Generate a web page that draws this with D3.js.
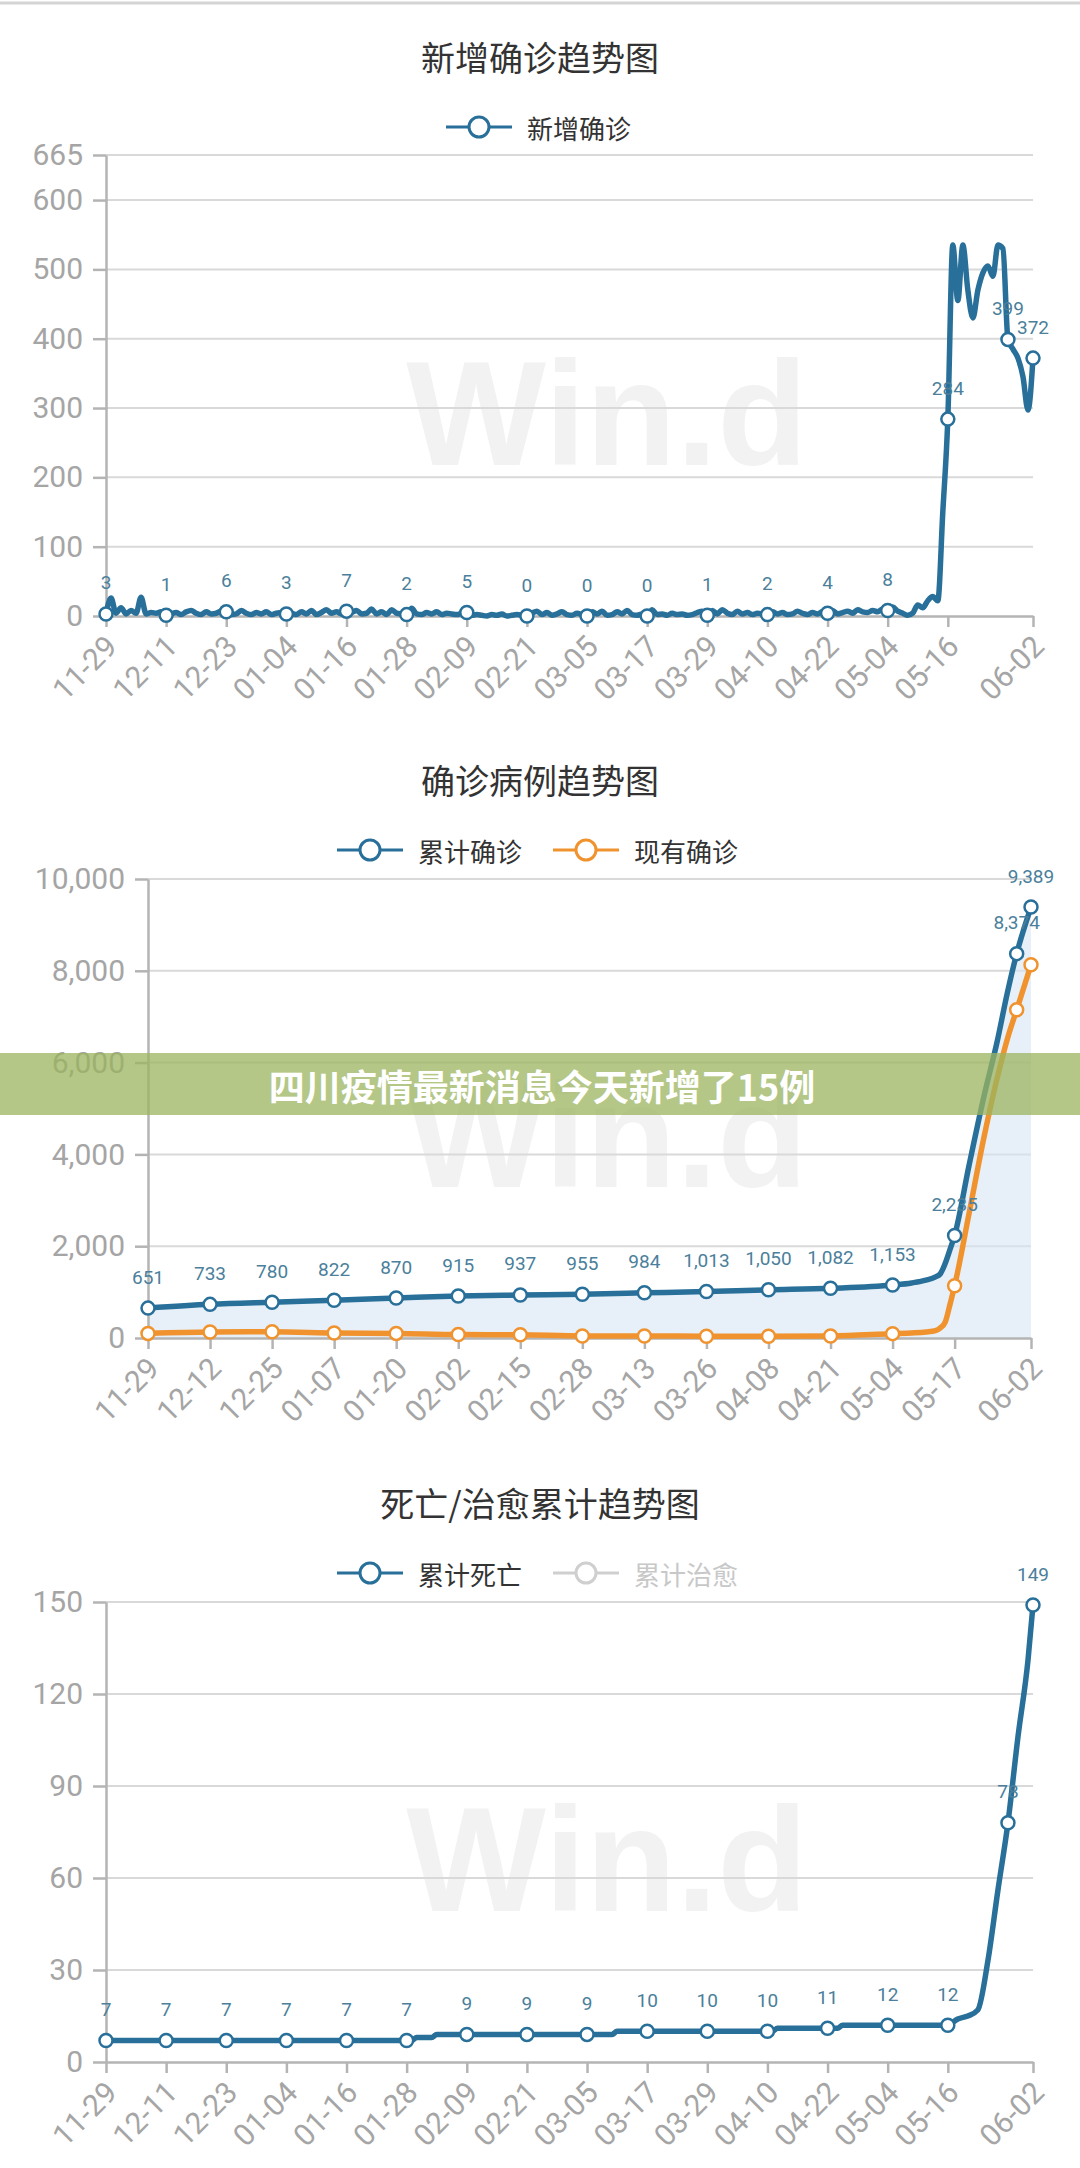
<!DOCTYPE html>
<html>
<head>
<meta charset="utf-8">
<script src="https://cdn.jsdelivr.net/npm/d3@7"></script>
<style>
body { margin: 0; background: #fff; }
svg { display: block; }
</style>
</head>
<body>
<svg id="page" width="1080" height="2168"></svg>
<script>
// ---- data ----
var startDate = "2021-11-29"

// 新增确诊, one value per day from 11-29 to 06-02
var newCases = [
    3, 26, 4, 12, 3, 8, 4, 27, 3, 5, 4, 6,
    1, 3, 5, 2, 6, 8, 4, 2, 6, 3, 4, 7,
    6, 2, 3, 8, 4, 2, 5, 3, 6, 2, 4, 5,
    3, 4, 2, 6, 3, 8, 2, 5, 9, 4, 6, 3,
    7, 5, 8, 3, 4, 10, 3, 6, 2, 9, 4, 3,
    2, 11, 3, 2, 5, 3, 6, 2, 4, 3, 2, 4,
    5, 1, 2, 1, 0, 2, 1, 3, 0, 1, 2, 1,
    0, 4, 7, 2, 5, 1, 3, 6, 2, 1, 4, 2,
    0, 6, 3, 7, 1, 2, 6, 3, 8, 2, 1, 3,
    0, 9, 2, 3, 1, 4, 2, 3, 1, 2, 5, 7,
    1, 8, 3, 9, 4, 2, 7, 3, 5, 2, 4, 3,
    2, 6, 3, 5, 2, 3, 7, 4, 2, 5, 3, 6,
    4, 8, 3, 5, 7, 4, 9, 6, 5, 8, 6, 10,
    8, 13, 7, 4, 1, 4, 16, 12, 22, 28, 22, 150,
    284, 535, 455, 535, 470, 430, 470, 495, 505, 490, 535, 530,
    399, 385, 372, 345, 297, 372
]

// 确诊病例 (day index from 11-29)
var confIdx = [0, 13, 26, 39, 52, 65, 78, 91, 104, 117, 130, 143, 156, 160, 163, 165, 166, 167, 168, 169, 172, 175, 178, 180, 182, 185]
var totalConfirmed = [651, 733, 780, 822, 870, 915, 937, 955, 984, 1013, 1050, 1082, 1153, 1200, 1260, 1330, 1400, 1620, 1920, 2235, 3750, 5200, 6500, 7500, 8374, 9389]
var currentConfirmed = [100, 130, 135, 110, 100, 75, 70, 45, 45, 40, 40, 45, 95, 110, 130, 160, 220, 340, 720, 1140, 2700, 4300, 5700, 6500, 7150, 8130]

// 累计死亡 (day index from 11-29)
var deathIdx = [0, 12, 24, 36, 48, 60, 61, 62, 65, 66, 72, 84, 96, 101, 102, 108, 120, 132, 133, 134, 144, 146, 147, 156, 168, 169, 170, 172, 174, 176, 178, 180, 182, 184, 185]
var totalDeaths = [7, 7, 7, 7, 7, 7, 7, 8, 8, 9, 9, 9, 9, 9, 10, 10, 10, 10, 10, 11, 11, 11, 12, 12, 12, 13, 14, 15, 17, 33, 56, 78, 106, 131, 149]

// ticks / markers
var ticks12 = [0, 12, 24, 36, 48, 60, 72, 84, 96, 108, 120, 132, 144, 156, 168, 185]
var ticks13 = [0, 13, 26, 39, 52, 65, 78, 91, 104, 117, 130, 143, 156, 169, 185]
var marks12 = [0, 12, 24, 36, 48, 60, 72, 84, 96, 108, 120, 132, 144, 156, 168, 180, 185]
var marks13 = [0, 13, 26, 39, 52, 65, 78, 91, 104, 117, 130, 143, 156, 169, 182, 185]

var yTicks1 = [0, 100, 200, 300, 400, 500, 600, 665]
var yTicks2 = [0, 2000, 4000, 6000, 8000, 10000]
var yTicks3 = [0, 30, 60, 90, 120, 150]

var BLUE = "#286f99"
var ORANGE = "#f0932f"
var LABEL = "#4b7f9b"
var CJK = "'Noto Sans CJK SC', 'Noto Sans', sans-serif"
var NUM = "Roboto, 'Noto Sans', sans-serif"

var svg = d3.select("#page")
var start = d3.timeParse("%Y-%m-%d")(startDate)
function dayToDate(i) { return d3.timeDay.offset(start, i) }

// thin border on top of the screenshot
svg.append("line")
    .attr("x1", 0).attr("x2", 1080).attr("y1", 3).attr("y2", 3)
    .attr("stroke", "#d4d4d4").attr("stroke-width", 3)

function drawChart(opt) {
    var g = svg.append("g")

    var x = d3.scaleTime()
        .domain([dayToDate(0), dayToDate(185)])
        .range([opt.left, opt.right])
    var y = d3.scaleLinear()
        .domain([0, opt.yMax])
        .range([opt.bottom, opt.top])

    // title
    g.append("text")
        .attr("x", 540).attr("y", opt.titleY)
        .attr("text-anchor", "middle").attr("dominant-baseline", "central")
        .style("font-family", CJK).style("font-size", "34px")
        .attr("fill", "#333")
        .text(opt.title)

    // legend
    opt.legend.forEach(function(item) {
        var c = item.active ? item.color : "#cfcfcf"
        g.append("line")
            .attr("x1", item.cx - 33).attr("x2", item.cx + 33)
            .attr("y1", opt.legendY).attr("y2", opt.legendY)
            .attr("stroke", c).attr("stroke-width", 3)
        g.append("circle")
            .attr("cx", item.cx).attr("cy", opt.legendY).attr("r", 10)
            .attr("fill", "#fff").attr("stroke", c).attr("stroke-width", 3)
        g.append("text")
            .attr("x", item.cx + 48).attr("y", opt.legendY)
            .attr("dominant-baseline", "central")
            .style("font-family", CJK).style("font-size", "26px")
            .attr("fill", item.active ? "#333" : "#c8c8c8")
            .text(item.name)
    })

    // watermark
    g.append("text")
        .attr("x", 607).attr("y", opt.bottom - 151)
        .attr("text-anchor", "middle")
        .style("font-family", "'Liberation Sans', Arial, sans-serif")
        .style("font-weight", "bold").style("font-size", "148px")
        .attr("fill", "#f2f2f2")
        .text("Win.d")

    // grid
    g.append("g").selectAll("line")
        .data(opt.yTicks.filter(function(d) { return d > 0 }))
        .enter().append("line")
        .attr("x1", opt.left).attr("x2", opt.right)
        .attr("y1", d => y(d)).attr("y2", d => y(d))
        .attr("stroke", "#d9d9d9").attr("stroke-width", 2)

    // series
    var line = d3.line()
        .x(d => x(d.date))
        .y(d => y(d.v))
        .curve(d3.curveMonotoneX)

    opt.series.forEach(function(s) {
        var pts = s.days.map(function(dd, i) { return { day: dd, date: dayToDate(dd), v: s.values[i] } })
        if (s.area) {
            var area = d3.area()
                .x(d => x(d.date))
                .y0(y(0))
                .y1(d => y(d.v))
                .curve(d3.curveMonotoneX)
            g.append("path")
                .datum(pts)
                .attr("d", area)
                .attr("fill", "#d7e6f3")
                .attr("opacity", 0.6)
        }
        s.pts = pts
    })

    // axes
    var yAxis = g.append("g")
        .attr("transform", "translate(" + opt.left + ",0)")
        .call(d3.axisLeft(y).tickValues(opt.yTicks).tickSize(13).tickSizeOuter(0).tickPadding(10).tickFormat(opt.yFormat))
    yAxis.select(".domain").attr("stroke", "#b4b4b4").attr("stroke-width", 2.5)
    yAxis.selectAll(".tick line").attr("stroke", "#b4b4b4").attr("stroke-width", 2.5)
    yAxis.selectAll("text")
        .style("font-family", NUM).style("font-size", "30px")
        .attr("fill", "#a5a5a5")

    var xAxis = g.append("g")
        .attr("transform", "translate(0," + opt.bottom + ")")
        .call(d3.axisBottom(x).tickValues(opt.xTicks.map(dayToDate)).tickSize(11).tickSizeOuter(0).tickFormat(d3.timeFormat("%m-%d")))
    xAxis.select(".domain").attr("stroke", "#b4b4b4").attr("stroke-width", 2.5)
    xAxis.selectAll(".tick line").attr("stroke", "#b4b4b4").attr("stroke-width", 2.5)
    xAxis.selectAll("text")
        .attr("y", 0).attr("dy", "0.35em")
        .attr("text-anchor", "end")
        .attr("transform", "translate(5,25) rotate(-45)")
        .style("font-family", NUM).style("font-size", "30px")
        .attr("fill", "#a5a5a5")

    // lines, markers and labels
    opt.series.forEach(function(s) {
        g.append("path")
            .datum(s.pts)
            .attr("d", line)
            .attr("fill", "none")
            .attr("stroke", s.color)
            .attr("stroke-width", 5.5)
            .attr("stroke-linejoin", "round")
    })
    opt.series.forEach(function(s) {
        var marks = s.pts.filter(function(p) { return opt.marks.indexOf(p.day) >= 0 })
        g.append("g").selectAll("circle")
            .data(marks)
            .enter().append("circle")
            .attr("cx", d => x(d.date))
            .attr("cy", d => y(d.v))
            .attr("r", 6.5)
            .attr("fill", "#fff")
            .attr("stroke", s.color)
            .attr("stroke-width", 2.5)
        if (s.labels) {
            g.append("g").selectAll("text")
                .data(marks)
                .enter().append("text")
                .attr("x", d => x(d.date))
                .attr("y", d => y(d.v) - 31)
                .attr("text-anchor", "middle").attr("dominant-baseline", "central")
                .style("font-family", NUM).style("font-size", "19px")
                .attr("fill", LABEL)
                .text(d => d3.format(",")(d.v))
        }
    })
}

var allDays = newCases.map(function(d, i) { return i })

drawChart({
    title: "新增确诊趋势图", titleY: 56, legendY: 127,
    legend: [{ name: "新增确诊", cx: 479, color: BLUE, active: true }],
    left: 106, right: 1033, top: 155, bottom: 616,
    yMax: 665, yTicks: yTicks1, yFormat: d3.format("d"),
    xTicks: ticks12, marks: marks12,
    series: [{ days: allDays, values: newCases, color: BLUE, labels: true }]
})

drawChart({
    title: "确诊病例趋势图", titleY: 779, legendY: 850,
    legend: [
        { name: "累计确诊", cx: 370, color: BLUE, active: true },
        { name: "现有确诊", cx: 586, color: ORANGE, active: true }
    ],
    left: 148, right: 1031, top: 879, bottom: 1338,
    yMax: 10000, yTicks: yTicks2, yFormat: d3.format(","),
    xTicks: ticks13, marks: marks13,
    series: [
        { days: confIdx, values: totalConfirmed, color: BLUE, labels: true, area: true },
        { days: confIdx, values: currentConfirmed, color: ORANGE, labels: false }
    ]
})

drawChart({
    title: "死亡/治愈累计趋势图", titleY: 1502, legendY: 1573,
    legend: [
        { name: "累计死亡", cx: 370, color: BLUE, active: true },
        { name: "累计治愈", cx: 586, color: BLUE, active: false }
    ],
    left: 106, right: 1033, top: 1602, bottom: 2062,
    yMax: 150, yTicks: yTicks3, yFormat: d3.format("d"),
    xTicks: ticks12, marks: marks12,
    series: [{ days: deathIdx, values: totalDeaths, color: BLUE, labels: true }]
})

// caption banner over the middle chart
svg.append("rect")
    .attr("x", 0).attr("y", 1053).attr("width", 1080).attr("height", 62)
    .attr("fill", "rgb(155,180,95)").attr("opacity", 0.75)
svg.append("text")
    .attr("x", 542).attr("y", 1085)
    .attr("text-anchor", "middle").attr("dominant-baseline", "central")
    .style("font-family", CJK).style("font-weight", "bold").style("font-size", "36px")
    .attr("fill", "#fff")
    .text("四川疫情最新消息今天新增了15例")
</script>
</body>
</html>
